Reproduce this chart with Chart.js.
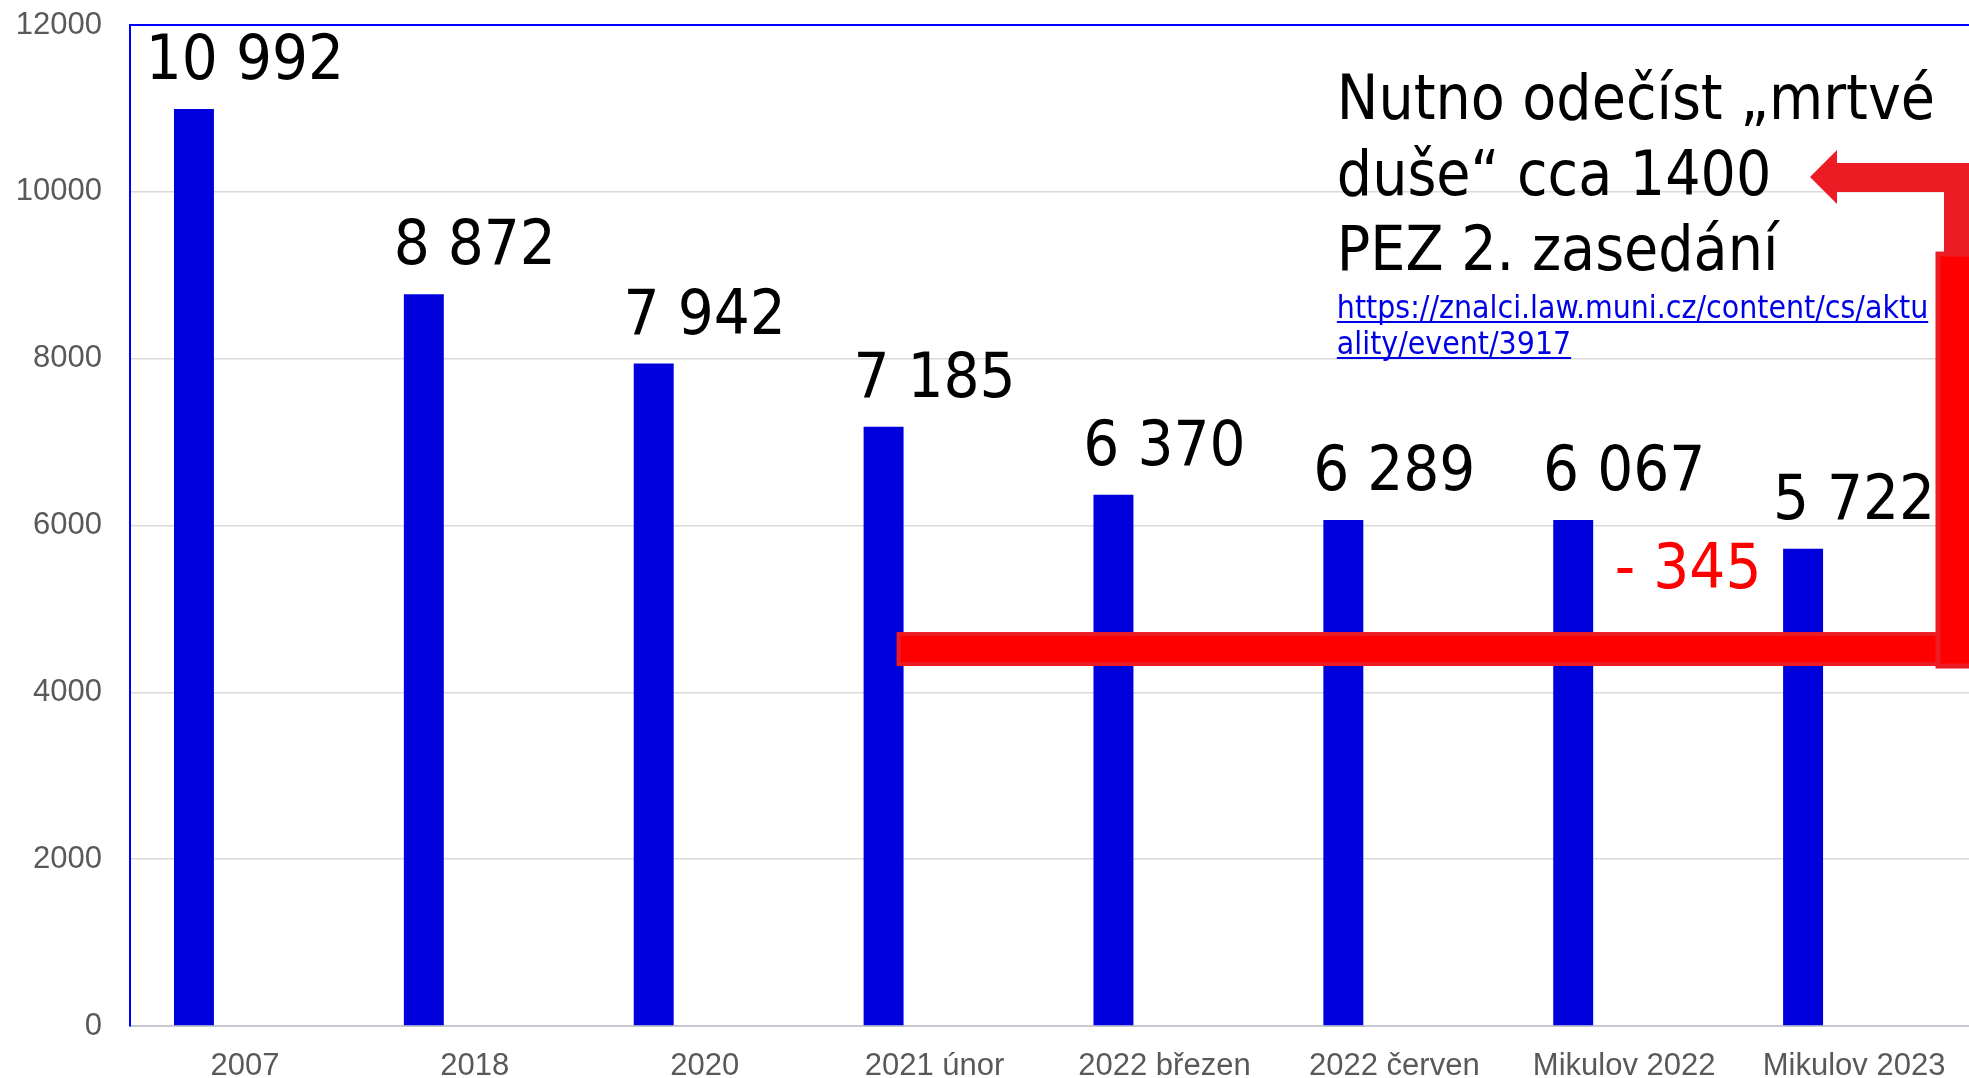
<!DOCTYPE html>
<html><head><meta charset="utf-8">
<script src="https://cdn.jsdelivr.net/npm/chart.js@4.4.0/dist/chart.umd.min.js"></script>
<style>html,body{margin:0;padding:0;background:#fff;} #wrap{width:1969px;height:1078px;position:relative;}</style>
</head><body><div id="wrap"><canvas id="c"></canvas></div>
<script>
const categories = ['2007', '2018', '2020', '2021 únor', '2022 březen', '2022 červen', 'Mikulov 2022', 'Mikulov 2023'];
const barValues = [10992, 8772, 7942, 7185, 6370, 6067, 6067, 5722];
const valueLabels = ['10 992', '8 872', '7 942', '7 185', '6 370', '6 289', '6 067', '5 722'];
const yTicks = [0, 2000, 4000, 6000, 8000, 10000, 12000];
const differenceText = '- 345';
const differenceValue = 5250;
const thresholdValue = 4519;
const connectorTopValue = 9254;
const arrowValue = 10177;
const noteLines = ['Nutno odečíst „mrtvé', 'duše“ cca 1400', 'PEZ 2. zasedání'];
const noteValues = [10873, 9962, 9063];
const linkLines = ['https://znalci.law.muni.cz/content/cs/aktu', 'ality/event/3917'];
const linkValues = [8487, 8055];

const BIG_FONT = '"DejaVu Sans Condensed", "Noto Sans", sans-serif';
const AXIS_FONT = '"Liberation Sans", Arial, sans-serif';

const overlay = {
  id: 'overlay',
  afterDatasetsDraw(chart) {
    const {ctx, chartArea: a, scales: {x, y}} = chart;
    const meta = chart.getDatasetMeta(0);
    ctx.save();
    // horizontal red bar
    const b3 = meta.data[3];
    const hy = y.getPixelForValue(thresholdValue);
    const hh = 30;
    const hx0 = b3.x + b3.width / 2 - 5;
    const vx0 = a.right - 31;
    ctx.fillStyle = '#FF0000';
    ctx.strokeStyle = '#ED1C24';
    ctx.lineWidth = 4;
    ctx.fillRect(hx0, hy - hh / 2, vx0 + 2 - hx0, hh);
    ctx.strokeRect(hx0, hy - hh / 2, vx0 + 2 - hx0, hh);
    // elbow arrow
    const ay = y.getPixelForValue(arrowValue);
    const vTop = y.getPixelForValue(connectorTopValue);
    const R = a.right;
    ctx.fillStyle = '#ED1C24';
    ctx.beginPath();
    ctx.moveTo(R - 159, ay);
    ctx.lineTo(R - 132, ay - 27);
    ctx.lineTo(R - 132, ay - 14);
    ctx.lineTo(R + 5, ay - 14);
    ctx.lineTo(R + 5, vTop + 4);
    ctx.lineTo(R - 25, vTop + 4);
    ctx.lineTo(R - 25, ay + 15);
    ctx.lineTo(R - 132, ay + 15);
    ctx.lineTo(R - 132, ay + 27);
    ctx.closePath();
    ctx.fill();
    // vertical red bar
    const vBottom = hy + hh / 2 + 2;
    ctx.fillStyle = '#FF0000';
    ctx.strokeStyle = '#ED1C24';
    ctx.lineWidth = 5;
    ctx.fillRect(vx0, vTop, 40, vBottom - vTop);
    ctx.strokeRect(vx0, vTop, 40, vBottom - vTop);

    // value labels
    ctx.fillStyle = '#000';
    ctx.textAlign = 'center';
    ctx.textBaseline = 'alphabetic';
    ctx.font = '63px ' + BIG_FONT;
    meta.data.forEach((bar, i) => {
      const cx = x.getPixelForValue(i);
      ctx.fillText(valueLabels[i], cx, bar.y - 30);
    });

    // difference
    const m6 = meta.data[6], m7 = meta.data[7];
    ctx.fillStyle = '#FF0000';
    ctx.fillText(differenceText, (m6.x + m7.x) / 2, y.getPixelForValue(differenceValue));

    // note
    const step = (x.getPixelForValue(1) - x.getPixelForValue(0));
    const nx = x.getPixelForValue(5) - step * 0.25;
    ctx.textAlign = 'left';
    ctx.fillStyle = '#000';
    ctx.font = '64px ' + BIG_FONT;
    const w1 = ctx.measureText(noteLines[0]).width;
    const ns = 64 * 598 / w1;
    ctx.font = ns.toFixed(1) + 'px ' + BIG_FONT;
    noteLines.forEach((t, i) => ctx.fillText(t, nx, y.getPixelForValue(noteValues[i])));

    // link
    ctx.font = '31px ' + BIG_FONT;
    const lw = ctx.measureText(linkLines[0]).width;
    const ls = 31 * 592 / lw;
    ctx.font = ls.toFixed(1) + 'px ' + BIG_FONT;
    ctx.fillStyle = '#0000E6';
    ctx.strokeStyle = '#0000E6';
    ctx.lineWidth = 2;
    linkLines.forEach((t, i) => {
      const by = y.getPixelForValue(linkValues[i]);
      ctx.fillText(t, nx, by);
      const w = ctx.measureText(t).width;
      ctx.beginPath();
      ctx.moveTo(nx, by + 4);
      ctx.lineTo(nx + w, by + 4);
      ctx.stroke();
    });
    ctx.restore();
  }
};

new Chart(document.getElementById('c'), {
  type: 'bar',
  data: {
    labels: categories,
    datasets: [
      {data: barValues, backgroundColor: '#0000DD', barPercentage: 0.392, categoryPercentage: 0.887},
      {data: categories.map(() => null), backgroundColor: '#0000DD', barPercentage: 0.392, categoryPercentage: 0.887}
    ]
  },
  options: {
    responsive: true,
    maintainAspectRatio: false,
    animation: false,
    layout: {padding: {left: 16, top: 25, right: 0, bottom: 0}},
    plugins: {legend: {display: false}, tooltip: {enabled: false}},
    scales: {
      x: {
        afterFit: s => { s.height = 52; s.paddingLeft = 0; s.paddingRight = 0; },
        grid: {display: false, drawTicks: false},
        border: {display: true, color: '#C8C8D2', width: 2},
        ticks: {color: '#595959', font: {family: AXIS_FONT, size: 31, lineHeight: 1.2}, padding: 22, maxRotation: 0, autoSkip: false}
      },
      y: {
        min: 0, max: 12000,
        afterBuildTicks: s => { s.ticks = yTicks.map(v => ({value: v})); },
        afterFit: s => { s.width = 114; s.paddingTop = 0; s.paddingBottom = 0; },
        grid: {
          drawTicks: false,
          color: c => c.tick.value === 12000 ? '#0000FF' : (c.tick.value === 0 ? '#C8C8D2' : '#D9D9D9'),
          lineWidth: c => c.tick.value === 12000 ? 2 : 1.5
        },
        border: {display: true, color: '#0000FF', width: 2},
        ticks: {color: '#595959', font: {family: AXIS_FONT, size: 31}, padding: 28, callback: v => String(v)}
      }
    }
  },
  plugins: [overlay]
});
</script></body></html>
